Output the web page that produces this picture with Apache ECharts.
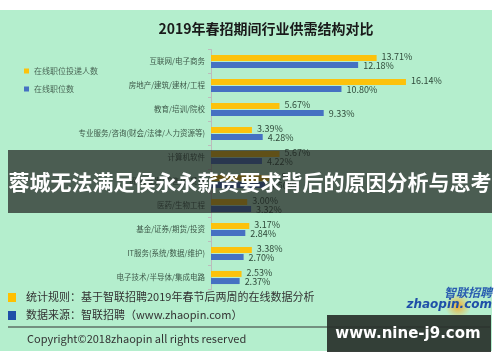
<!DOCTYPE html>
<html><head><meta charset="utf-8">
<script src="https://cdn.jsdelivr.net/npm/echarts@6/dist/echarts.min.js"></script>
<style>html,body{margin:0;padding:0;background:#fff}#c{width:500px;height:362px}</style>
</head><body><div id="c"></div>
<script>
const categories = ['互联网/电子商务','房地产/建筑/建材/工程','教育/培训/院校','专业服务/咨询(财会/法律/人力资源等)','计算机软件','贸易/批发/零售/租赁业','医药/生物工程','基金/证券/期货/投资','IT服务(系统/数据/维护)','电子技术/半导体/集成电路'];
const applicants = [13.71,16.14,5.67,3.39,5.67,4.80,3.00,3.17,3.38,2.53];
const positions = [12.18,10.80,9.33,4.28,4.22,4.50,3.32,2.84,2.70,2.37];
const seriesNames = ['在线职位投递人数','在线职位数'];
const titleText = '2019年春招期间行业供需结构对比';
const bannerText = '蓉城无法满足侯永永薪资要求背后的原因分析与思考';
const note1 = '统计规则：基于智联招聘2019年春节后两周的在线数据分析';
const note2 = '数据来源：智联招聘（www.zhaopin.com）';
const copyright = 'Copyright©2018zhaopin all rights reserved';
const watermark = 'www.nine-j9.com';

const F = '"Noto Sans CJK SC","Noto Sans",sans-serif';
const chart = echarts.init(document.getElementById('c'), null, {renderer:'canvas'});
const lbl = {show:true, position:'right', distance:5, fontSize:9, color:'#2f4a3a', fontFamily:F,
  formatter: p => p.value.toFixed(2) + '%'};
chart.setOption({
  backgroundColor:'#ffffff',
  animation:false,
  title:{text:titleText, left:261, top:17, textAlign:'center',
    textStyle:{fontSize:14, fontWeight:'bold', color:'#1a1a1a', fontFamily:F}},
  legend:{orient:'vertical', left:19, top:62, itemWidth:5, itemHeight:5, itemGap:10, icon:'rect',
    textStyle:{fontSize:8, color:'#4a6656', fontFamily:F}, data:seriesNames},
  grid:{left:211, top:49.5, width:241.6, height:240},
  xAxis:{type:'value', min:0, max:20, show:false},
  yAxis:{type:'category', data:categories, inverse:true,
    axisLine:{show:true, lineStyle:{color:'#bcbcbc', width:1}},
    axisTick:{show:true, length:3, lineStyle:{color:'#bcbcbc'}},
    axisLabel:{fontSize:7.5, color:'#3f5a4a', margin:6, fontFamily:F}},
  series:[
    {name:seriesNames[0], type:'bar', data:applicants, barWidth:6, barGap:'18%',
      itemStyle:{color:'#fcc20c'}, label:Object.assign({}, lbl, {offset:[0,-1]})},
    {name:seriesNames[1], type:'bar', data:positions, barWidth:6,
      itemStyle:{color:'#4571c2'}, label:Object.assign({}, lbl, {offset:[0,1]})}
  ],
  graphic:[
    {type:'rect', shape:{x:0,y:10,width:492,height:341}, style:{fill:'#b4eecd'}, z:-10, silent:true},
    {type:'rect', shape:{x:8,y:150,width:484,height:63}, style:{fill:'rgba(30,32,30,0.70)'}, z:100},
    {type:'text', x:250, y:182, z:101, style:{text:bannerText, fill:'#ffffff', font:'bold 21px '+F, textAlign:'center', textVerticalAlign:'middle'}},
    {type:'rect', shape:{x:8,y:293,width:8,height:9}, style:{fill:'#ffc000'}, z:50},
    {type:'rect', shape:{x:8,y:311,width:8,height:9}, style:{fill:'#1f4fa8'}, z:50},
    {type:'text', x:26, y:297, z:50, style:{text:note1, fill:'#333333', font:'11px '+F, textVerticalAlign:'middle'}},
    {type:'text', x:26, y:315, z:50, style:{text:note2, fill:'#333333', font:'11px '+F, textVerticalAlign:'middle'}},
    {type:'line', shape:{x1:8,y1:327,x2:490,y2:327}, style:{stroke:'#333333', lineWidth:1}, z:50},
    {type:'text', x:27, y:339, z:50, style:{text:copyright, fill:'#333333', font:'11px '+F, textVerticalAlign:'middle'}},
    {type:'circle', shape:{cx:458, cy:306, r:13}, style:{fill:{type:'radial',x:0.5,y:0.5,r:0.5,colorStops:[{offset:0,color:'rgba(245,160,30,0.9)'},{offset:1,color:'rgba(245,190,60,0)'}]}}, z:50},
    {type:'text', x:492, y:292, z:51, style:{text:'智联招聘', fill:'#2a5db0', font:'italic bold 12px '+F, textAlign:'right', textVerticalAlign:'middle'}},
    {type:'text', x:492, y:305, z:51, style:{text:'zhaopin.com', fill:'#1f4fa8', font:'italic bold 12px "DejaVu Sans",sans-serif', textAlign:'right', textVerticalAlign:'middle'}},
    {type:'rect', shape:{x:327,y:315,width:164,height:37}, style:{fill:'rgba(40,48,42,0.92)'}, z:100},
    {type:'text', x:408, y:334, z:101, style:{text:watermark, fill:'#ffffff', font:'bold 15px "DejaVu Sans",sans-serif', textAlign:'center', textVerticalAlign:'middle'}}
  ]
});
</script></body></html>
